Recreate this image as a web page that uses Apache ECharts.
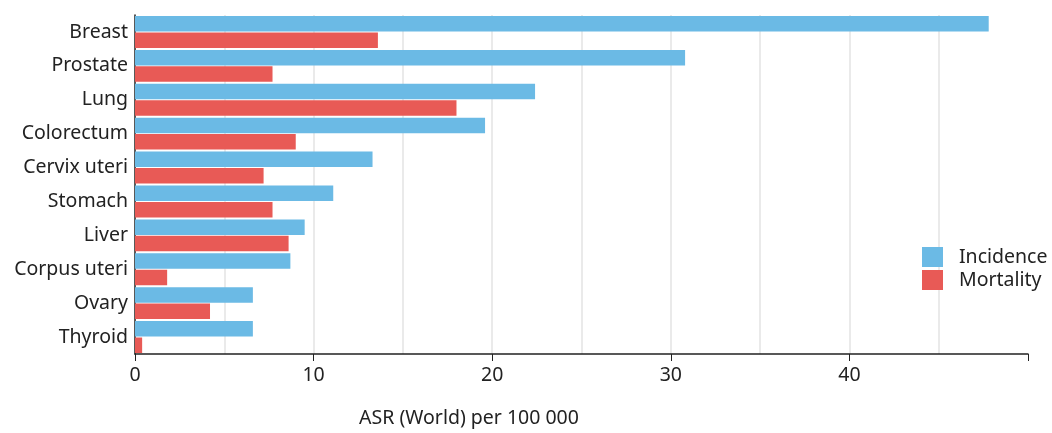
<!DOCTYPE html>
<html><head><meta charset="utf-8">
<script src="https://cdn.jsdelivr.net/npm/echarts@6/dist/echarts.min.js"></script>
<style>html,body{margin:0;padding:0;background:#fff}#c{width:1052px;height:433px}</style>
</head><body><div id="c"></div>
<script>
const categories = ["Breast","Prostate","Lung","Colorectum","Cervix uteri","Stomach","Liver","Corpus uteri","Ovary","Thyroid"];
const incidence = [47.8, 30.8, 22.4, 19.6, 13.3, 11.1, 9.5, 8.7, 6.6, 6.6];
const mortality = [13.6, 7.7, 18.0, 9.0, 7.2, 7.7, 8.6, 1.8, 4.2, 0.4];
const xTicks = [0, 10, 20, 30, 40];

const font = "'Noto Sans', 'Open Sans', sans-serif";
const chart = echarts.init(document.getElementById('c'), null, {renderer:'canvas'});
chart.setOption({
  animation:false,
  textStyle:{fontFamily:font},
  grid:{left:135, right:24, top:15, bottom:75, containLabel:false},
  legend:{
    orient:'vertical', left:917, top:242, itemWidth:21, itemHeight:20, itemGap:3,
    icon:'rect',
    textStyle:{fontSize:19.5, color:'#222', fontFamily:font, padding:[0,0,0,11]},
    data:['Incidence','Mortality']
  },
  xAxis:{
    type:'value', min:0, max:50, interval:10,
    name:'ASR (World) per 100 000', nameLocation:'middle', nameGap:54,
    nameTextStyle:{fontSize:19.5, color:'#222', fontFamily:font, padding:[0,225,0,0]},
    axisLine:{show:true, lineStyle:{color:'#222', width:1.5}},
    axisTick:{show:true, length:7, lineStyle:{color:'#222'}},
    axisLabel:{fontSize:19.5, color:'#222', margin:11, fontFamily:font,
      formatter:v => xTicks.includes(v) ? String(v) : ''},
    splitLine:{show:true, showMinLine:false, showMaxLine:false, lineStyle:{color:'#e3e3e3', width:1.5}},
    minorTick:{show:false, splitNumber:2},
    minorSplitLine:{show:true, lineStyle:{color:'#e3e3e3', width:1.5}}
  },
  yAxis:{
    type:'category', inverse:true, data:categories,
    axisLine:{show:true, lineStyle:{color:'#222', width:1.5}},
    axisTick:{show:false},
    axisLabel:{fontSize:19.5, color:'#222', margin:7, fontFamily:font}
  },
  series:[
    {name:'Incidence', type:'bar', data:incidence, barGap:'6%', barCategoryGap:'6%',
     itemStyle:{color:'#6bbae5'}},
    {name:'Mortality', type:'bar', data:mortality, barGap:'6%', barCategoryGap:'6%',
     itemStyle:{color:'#e85a56'}}
  ]
});
</script></body></html>
